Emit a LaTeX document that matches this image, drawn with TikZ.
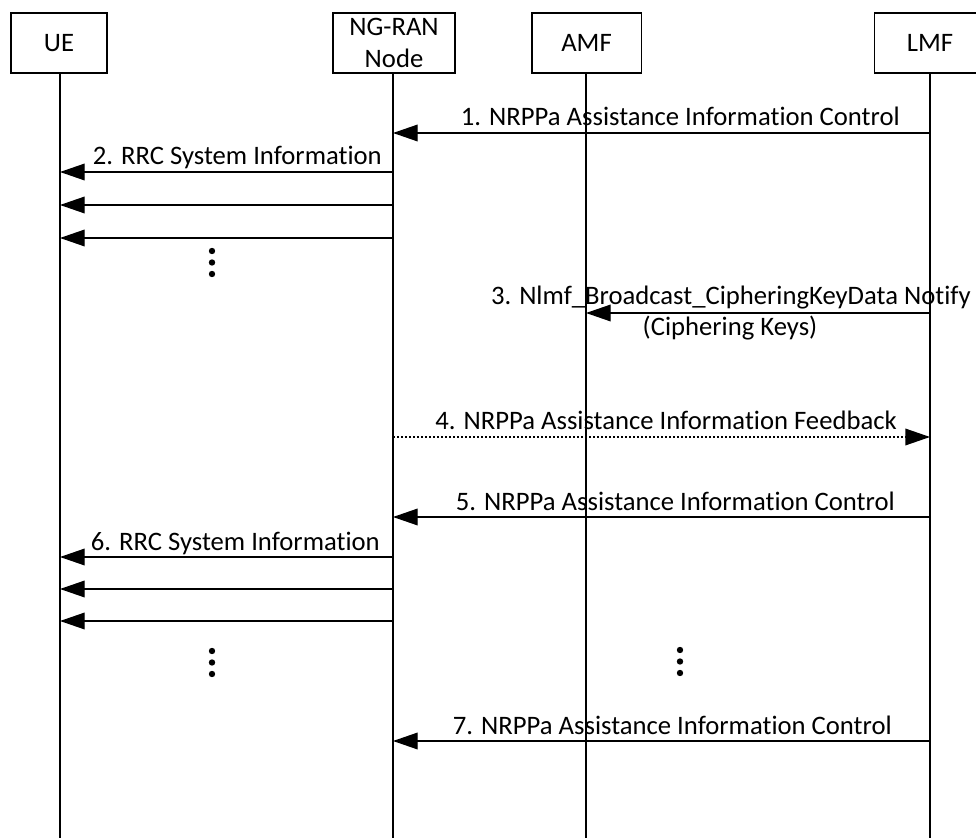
\documentclass[tikz,border=0pt]{standalone}
\usepackage{fontspec}
\setmainfont{Carlito}[Ligatures=NoCommon]
\usetikzlibrary{arrows.meta}
\begin{document}
\begin{tikzpicture}[x=0.75pt,y=-0.75pt,
  every node/.style={font=\fontsize{20}{24}\selectfont, inner sep=0pt},
  entity/.style={draw, line width=1pt, minimum height=45pt, align=center},
  life/.style={line width=1pt},
  msg/.style={line width=1pt, -{Triangle[length=18.5pt,width=12.5pt]}},
  fb/.style={msg, dash pattern=on 1.6pt off 1.4pt},
  lbl/.style={anchor=base east},
  dot/.style={fill=black}]
\clip (0,0) rectangle (976,838);
% entities
\node[entity, minimum width=72pt] (ue) at (59,43) {UE};
\node[entity, minimum width=91.5pt] (ran) at (394,43) {NG-RAN\\Node};
\node[entity, minimum width=82pt] (amf) at (586.5,43) {AMF};
\node[entity, minimum width=83pt] (lmf) at (930,43) {LMF};
% lifelines
\coordinate (ueEnd) at (60,840);
\coordinate (ranEnd) at (393,840);
\coordinate (amfEnd) at (586,840);
\coordinate (lmfEnd) at (930,840);
\draw[life] (ue.south -| ueEnd) -- (ueEnd);
\draw[life] (ran.south -| ranEnd) -- (ranEnd);
\draw[life] (amf.south -| amfEnd) -- (amfEnd);
\draw[life] (lmf.south -| lmfEnd) -- (lmfEnd);
% 1
\draw[msg] (lmfEnd |- 0,133) -- (ranEnd |- 0,133);
\node[lbl] (m1) at (900,126) {1. NRPPa Assistance Information Control};
% 2
\draw[msg] (ranEnd |- 0,172) -- (ueEnd |- 0,172);
\node[lbl] (m2) at (382,165) {2. RRC System Information};
\draw[msg] (ranEnd |- 0,205) -- (ueEnd |- 0,205);
\draw[msg] (ranEnd |- 0,238) -- (ueEnd |- 0,238);
\fill[dot] (212,251) circle[radius=2.4pt] (212,262.5) circle[radius=2.4pt] (212,274) circle[radius=2.4pt];
% 3
\draw[msg] (lmfEnd |- 0,313) -- (amfEnd |- 0,313);
\node[lbl] (m3) at (971,305) {3. Nlmf\_Broadcast\_CipheringKeyData Notify};
\node[anchor=base] (m3b) at (730,335) {(Ciphering Keys)};
% 4
\draw[fb] (ranEnd |- 0,437) -- (lmfEnd |- 0,437);
\node[lbl] (m4) at (897,430) {4. NRPPa Assistance Information Feedback};
% 5
\draw[msg] (lmfEnd |- 0,517) -- (ranEnd |- 0,517);
\node[lbl] (m5) at (895,510) {5. NRPPa Assistance Information Control};
% 6
\draw[msg] (ranEnd |- 0,557) -- (ueEnd |- 0,557);
\node[lbl] (m6) at (380,550) {6. RRC System Information};
\draw[msg] (ranEnd |- 0,589) -- (ueEnd |- 0,589);
\draw[msg] (ranEnd |- 0,621) -- (ueEnd |- 0,621);
\fill[dot] (212,651) circle[radius=2.4pt] (212,662.5) circle[radius=2.4pt] (212,674) circle[radius=2.4pt];
\fill[dot] (680,650) circle[radius=2.4pt] (680,661.5) circle[radius=2.4pt] (680,673) circle[radius=2.4pt];
% 7
\draw[msg] (lmfEnd |- 0,741) -- (ranEnd |- 0,741);
\node[lbl] (m7) at (892,734) {7. NRPPa Assistance Information Control};
\end{tikzpicture}
\end{document}
